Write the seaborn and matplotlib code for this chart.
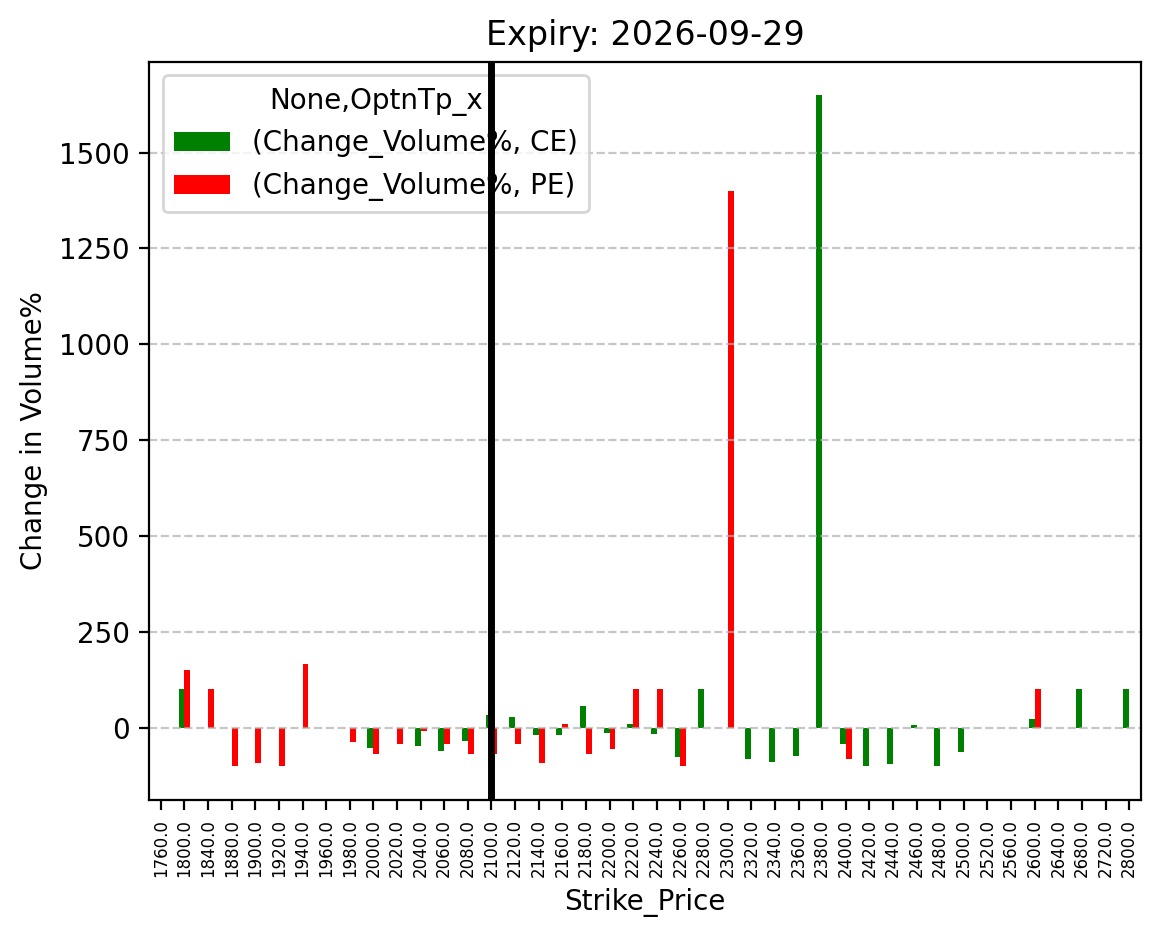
import numpy as np
import pandas as pd
import seaborn as sns
import matplotlib
matplotlib.use('Agg')
import matplotlib.pyplot as plt

nan = np.nan

strikes = [1760, 1800, 1840, 1880, 1900, 1920, 1940, 1960, 1980, 2000,
           2020, 2040, 2060, 2080, 2100, 2120, 2140, 2160, 2180, 2200,
           2220, 2240, 2260, 2280, 2300, 2320, 2340, 2360, 2380, 2400,
           2420, 2440, 2460, 2480, 2500, 2520, 2560, 2600, 2640, 2680,
           2720, 2800]

ce_change = [nan, 100, nan, nan, nan, nan, nan, nan, nan, -52,
             nan, -49, -60, -34, 33, 28, -18, -18, 57, -13,
             10, -16, -76, 102, -2, -83, -89, -73, 1650, -44,
             -100, -96, 7, -100, -63, nan, nan, 23, nan, 100,
             nan, 100]

pe_change = [nan, 150, 100, -100, -91, -100, 167, -2, -38, -70,
             -42, -10, -42, -68, -70, -42, -91, 10, -70, -57,
             100, 100, -100, nan, 1400, nan, nan, nan, nan, -83,
             nan, nan, nan, nan, nan, nan, nan, 100, nan, nan,
             nan, nan]

option_types = ['CE', 'PE']
legend_labels = ['(Change_Volume%, CE)', '(Change_Volume%, PE)']
spot_strike = 2100
expiry = '2026-09-29'


def build_data():
    tick_labels = [f'{s:.1f}' for s in strikes]
    df = pd.DataFrame({'Strike_Price': tick_labels, 'CE': ce_change, 'PE': pe_change})
    df_long = pd.melt(df, id_vars=['Strike_Price'], value_vars=option_types,
                      var_name='OptnTp', value_name='Change_Volume%')
    return df_long, tick_labels


def draw_volume_plot():
    df_long, tick_labels = build_data()

    fig = plt.figure(figsize=(5.805, 4.695), dpi=200)
    ax = fig.add_axes([149 / 1161, (939 - 799.5) / 939, 992 / 1161, 738 / 939])

    sns.barplot(data=df_long, x='Strike_Price', y='Change_Volume%', hue='OptnTp',
                order=tick_labels, hue_order=option_types,
                palette={'CE': 'green', 'PE': 'red'}, saturation=1,
                width=0.5, gap=0, errorbar=None, linewidth=0, ax=ax)

    ax.set_xlim(-0.5, len(tick_labels) - 0.5)
    ax.yaxis.grid(True, linestyle='--', alpha=0.7)
    ax.xaxis.grid(False)
    ax.tick_params(axis='x', labelrotation=90, labelsize=6)

    ax.axvline(tick_labels.index(f'{spot_strike:.1f}'), color='black', linewidth=2.5, zorder=6)

    handles, _ = ax.get_legend_handles_labels()
    ax.legend(handles, legend_labels, title='None,OptnTp_x', loc='upper left')

    ax.set_title(f'Expiry: {expiry}')
    ax.set_xlabel('Strike_Price')
    ax.set_ylabel('Change in Volume%')

    fig.savefig('out.png', dpi=200)
    return fig


draw_volume_plot()
